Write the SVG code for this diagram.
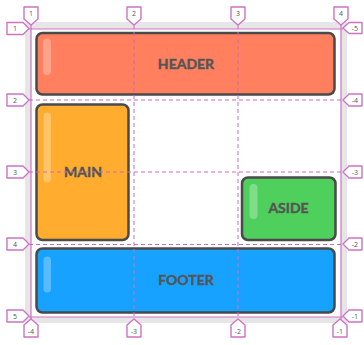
<svg xmlns="http://www.w3.org/2000/svg" width="364" height="345" viewBox="0 0 364 345">
  <style>
    .item { stroke: #4a4a4a; stroke-width: 2.5; }
    .shine { fill: #ffffff; fill-opacity: 0.28; }
    .label { font-family: Lato, "Open Sans", sans-serif; font-weight: bold; font-size: 14px; fill: #555555; stroke: #555555; stroke-width: 0.4; text-anchor: middle; }
    .edge { stroke: #cf72c4; stroke-width: 1.2; fill: none; }
    .track { stroke: #cc6cc0; stroke-width: 1; stroke-dasharray: 4 3; fill: none; }
    .tag { fill: #ffffff; stroke: #cf72c4; stroke-width: 1.4; stroke-linejoin: round; }
    .tagtext { font-family: "Open Sans", "DejaVu Sans", sans-serif; font-size: 7px; fill: #555555; text-anchor: middle; }
  </style>

  <!-- container -->
  <rect x="25" y="22" width="322" height="301" fill="#e6e6e6"/>
  <rect x="31" y="29" width="310" height="288" fill="#ffffff"/>

  <!-- grid items -->
  <g id="header">
    <rect class="item" x="36.5" y="33" width="298" height="61.5" rx="6" fill="#ff7f5e"/>
    <rect class="shine" x="43" y="38.5" width="8" height="36.5" rx="4"/>
    <text class="label" x="186" y="68.5">HEADER</text>
  </g>
  <g id="main">
    <rect class="item" x="36.5" y="104.5" width="92" height="135.5" rx="6" fill="#ffac2f"/>
    <rect class="shine" x="43.5" y="112.5" width="7.5" height="70" rx="3.75"/>
    <text class="label" x="83" y="177">MAIN</text>
  </g>
  <g id="aside">
    <rect class="item" x="242" y="177.5" width="93.5" height="62.5" rx="6" fill="#4fcf5b"/>
    <rect class="shine" x="249.5" y="184" width="8" height="35" rx="4"/>
    <text class="label" x="288.5" y="213">ASIDE</text>
  </g>
  <g id="footer">
    <rect class="item" x="36.5" y="248.5" width="298" height="64" rx="6" fill="#18a2ff"/>
    <rect class="shine" x="43.5" y="256.5" width="7.5" height="36" rx="3.75"/>
    <text class="label" x="186" y="285">FOOTER</text>
  </g>

  <!-- grid lines -->
  <g id="connectors">
    <line class="edge" x1="31" y1="25" x2="31" y2="320"/>
    <line class="edge" x1="341" y1="25" x2="341" y2="320"/>
    <line class="edge" x1="29" y1="29" x2="343" y2="29"/>
    <line class="edge" x1="29" y1="317" x2="343" y2="317"/>
    <line class="track" x1="134" y1="25" x2="134" y2="320"/>
    <line class="track" x1="238" y1="25" x2="238" y2="320"/>
    <line class="track" x1="29" y1="100" x2="343" y2="100"/>
    <line class="track" x1="29" y1="172" x2="343" y2="172"/>
    <line class="track" x1="29" y1="244.5" x2="343" y2="244.5"/>
  </g>

  <!-- line number tags: top -->
  <g id="tags-top">
    <path class="tag" d="M24 7 H38 V19 L31 25 L24 19 Z"/>
    <text class="tagtext" x="31" y="16">1</text>
    <path class="tag" d="M127 7 H141 V19 L134 25 L127 19 Z"/>
    <text class="tagtext" x="134" y="16">2</text>
    <path class="tag" d="M231 7 H245 V19 L238 25 L231 19 Z"/>
    <text class="tagtext" x="238" y="16">3</text>
    <path class="tag" d="M334 7 H348 V19 L341 25 L334 19 Z"/>
    <text class="tagtext" x="341" y="16">4</text>
  </g>
  <!-- line number tags: left -->
  <g id="tags-left">
    <path class="tag" d="M7 22.5 H23 L29 28.5 L23 34.5 H7 Z"/>
    <text class="tagtext" x="15" y="31">1</text>
    <path class="tag" d="M7 94 H23 L29 100 L23 106 H7 Z"/>
    <text class="tagtext" x="15" y="102.5">2</text>
    <path class="tag" d="M7 166 H23 L29 172 L23 178 H7 Z"/>
    <text class="tagtext" x="15" y="174.5">3</text>
    <path class="tag" d="M7 238 H23 L29 244 L23 250 H7 Z"/>
    <text class="tagtext" x="15" y="246.5">4</text>
    <path class="tag" d="M7 310 H23 L29 316 L23 322 H7 Z"/>
    <text class="tagtext" x="15" y="318.5">5</text>
  </g>
  <!-- line number tags: right -->
  <g id="tags-right">
    <path class="tag" d="M343 28 L349 22.5 H362 V33.5 H349 Z"/>
    <text class="tagtext" x="355" y="30.5">-5</text>
    <path class="tag" d="M343 100 L349 94 H362 V106 H349 Z"/>
    <text class="tagtext" x="355" y="102.5">-4</text>
    <path class="tag" d="M343 172 L349 166 H362 V178 H349 Z"/>
    <text class="tagtext" x="355" y="174.5">-3</text>
    <path class="tag" d="M343 244 L349 238 H362 V250 H349 Z"/>
    <text class="tagtext" x="355" y="246.5">-2</text>
    <path class="tag" d="M343 316 L349 310 H362 V322 H349 Z"/>
    <text class="tagtext" x="355" y="318.5">-1</text>
  </g>
  <!-- line number tags: bottom -->
  <g id="tags-bottom">
    <path class="tag" d="M31 319 L38 325 V337 H24 V325 Z"/>
    <text class="tagtext" x="31" y="334">-4</text>
    <path class="tag" d="M134 319 L141 325 V337 H127 V325 Z"/>
    <text class="tagtext" x="134" y="334">-3</text>
    <path class="tag" d="M238 319 L245 325 V337 H231 V325 Z"/>
    <text class="tagtext" x="238" y="334">-2</text>
    <path class="tag" d="M340 319 L347 325 V337 H333 V325 Z"/>
    <text class="tagtext" x="340" y="334">-1</text>
  </g>
</svg>
